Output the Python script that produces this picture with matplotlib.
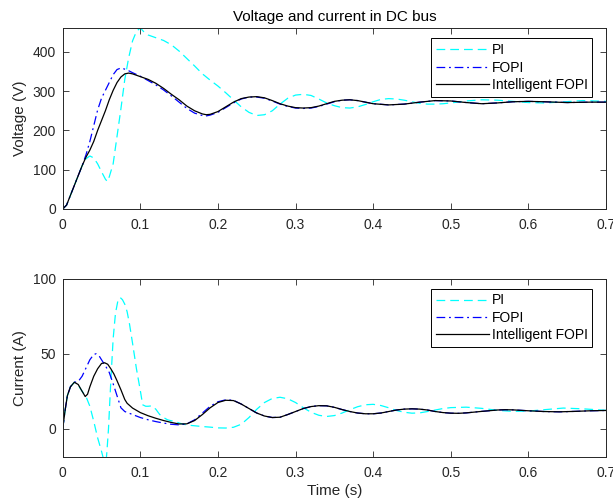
import matplotlib
matplotlib.use("Agg")
import matplotlib.pyplot as plt

plt.rcParams['font.family'] = ['Liberation Sans', 'DejaVu Sans']

# ---------------- Voltage data ----------------
t_v_pi = [0, 0.005, 0.01, 0.015, 0.02, 0.025, 0.03, 0.035, 0.04, 0.045, 0.05, 0.055, 0.0575,
          0.06, 0.065, 0.07, 0.075, 0.08, 0.085, 0.09, 0.095, 0.1, 0.105, 0.11, 0.12, 0.13,
          0.14, 0.15, 0.16, 0.17, 0.18, 0.19, 0.2, 0.21, 0.22, 0.23, 0.24, 0.25, 0.26, 0.27,
          0.28, 0.29, 0.3, 0.31, 0.32, 0.33, 0.34, 0.35, 0.36, 0.37, 0.38, 0.39, 0.4, 0.41,
          0.42, 0.43, 0.44, 0.45, 0.46, 0.47, 0.48, 0.49, 0.5, 0.52, 0.54, 0.56, 0.58, 0.6,
          0.62, 0.64, 0.67, 0.7]
v_pi = [0, 10, 35, 60, 85, 110, 128, 135, 130, 115, 95, 76, 70,
        82, 115, 185, 255, 330, 385, 428, 452, 461, 450, 443, 436, 429,
        418, 402, 383, 364, 344, 328, 313, 296, 278, 260, 246, 238, 240, 250,
        267, 282, 290, 292, 289, 280, 270, 263, 258, 257, 260, 266, 273, 279,
        281, 280, 277, 273, 269, 267, 267, 268, 270, 275, 278, 277, 274, 271,
        270, 272, 276, 274]

t_v_fopi = [0, 0.005, 0.01, 0.015, 0.02, 0.025, 0.03, 0.035, 0.04, 0.045, 0.05, 0.055, 0.06,
            0.065, 0.07, 0.075, 0.08, 0.085, 0.09, 0.1, 0.11, 0.12, 0.13, 0.14, 0.15, 0.16,
            0.17, 0.18, 0.185, 0.19, 0.2, 0.21, 0.22, 0.23, 0.24, 0.25, 0.26, 0.27, 0.28,
            0.29, 0.3, 0.31, 0.32, 0.33, 0.34, 0.35, 0.36, 0.37, 0.38, 0.39, 0.4, 0.42,
            0.44, 0.46, 0.48, 0.5, 0.52, 0.54, 0.56, 0.58, 0.6, 0.62, 0.65, 0.68, 0.7]
v_fopi = [0, 10, 35, 60, 85, 110, 138, 172, 212, 252, 282, 302, 322,
          342, 355, 359, 356, 352, 347, 338, 327, 316, 303, 288, 272, 256,
          244, 238, 237, 239, 246, 258, 270, 280, 285, 285, 282, 275, 267,
          261, 257, 256, 257, 261, 267, 273, 277, 278, 276, 272, 268, 265,
          267, 272, 276, 275, 271, 268, 270, 273, 274, 273, 271, 272, 272]

t_v_ifopi = [0, 0.005, 0.01, 0.015, 0.02, 0.025, 0.03, 0.035, 0.04, 0.045, 0.05, 0.055, 0.06,
             0.065, 0.07, 0.075, 0.08, 0.085, 0.09, 0.1, 0.11, 0.12, 0.13, 0.14, 0.15, 0.16,
             0.17, 0.18, 0.185, 0.19, 0.2, 0.21, 0.22, 0.23, 0.24, 0.25, 0.26, 0.27, 0.28,
             0.29, 0.3, 0.31, 0.32, 0.33, 0.34, 0.35, 0.36, 0.37, 0.38, 0.39, 0.4, 0.42,
             0.44, 0.46, 0.48, 0.5, 0.52, 0.54, 0.56, 0.58, 0.6, 0.62, 0.65, 0.68, 0.7]
v_ifopi = [0, 10, 35, 60, 85, 110, 132, 150, 172, 200, 225, 250, 278,
           302, 322, 336, 344, 346, 344, 337, 330, 320, 307, 292, 278, 262,
           250, 242, 240, 241, 248, 260, 272, 281, 285, 286, 283, 276, 268,
           262, 258, 257, 258, 262, 268, 274, 277, 278, 276, 272, 268, 265,
           267, 272, 276, 275, 271, 268, 270, 273, 274, 273, 271, 272, 272]

# ---------------- Current data ----------------
t_i_pi = [0, 0.003, 0.006, 0.01, 0.015, 0.02, 0.025, 0.03, 0.035, 0.04, 0.045, 0.05, 0.052,
          0.055, 0.057, 0.059, 0.062, 0.065, 0.068, 0.071, 0.074, 0.077, 0.08, 0.083, 0.086,
          0.09, 0.095, 0.1, 0.103, 0.107, 0.11, 0.115, 0.12, 0.125, 0.13, 0.135, 0.14, 0.145,
          0.15, 0.16, 0.17, 0.18, 0.19, 0.2, 0.21, 0.22, 0.23, 0.24, 0.25, 0.26, 0.27, 0.28,
          0.29, 0.3, 0.31, 0.32, 0.33, 0.34, 0.35, 0.36, 0.37, 0.38, 0.39, 0.4, 0.41, 0.42,
          0.43, 0.44, 0.45, 0.46, 0.47, 0.48, 0.49, 0.5, 0.52, 0.54, 0.56, 0.58, 0.6, 0.62,
          0.645, 0.67, 0.7]
i_pi = [0, 12, 22, 28, 31, 29, 25, 21.5, 15, 5, -6, -15, -19,
        -27, -15, 0, 32, 60, 77, 85, 87.5, 86, 83, 78, 70,
        57, 40, 25.5, 16, 15, 15, 15.3, 13, 9.5, 7.5, 6, 5.3, 5,
        3.8, 2.5, 2, 1.5, 1.1, 0.6, 0.5, 1, 3, 7.5, 13, 17.5, 20.2, 21,
        20, 17.5, 14, 11, 9, 8.2, 8.8, 10.5, 12.7, 14.7, 16, 16.3, 15.5, 14,
        12.2, 11, 10.4, 10.6, 11.5, 12.5, 13.5, 14.1, 14.4, 13.6, 12.3, 11.6, 11.8, 12.7,
        13.8, 13.3, 12.3]

t_i_fopi = [0, 0.003, 0.006, 0.01, 0.015, 0.02, 0.025, 0.03, 0.035, 0.04, 0.043, 0.047, 0.05,
            0.055, 0.06, 0.065, 0.07, 0.075, 0.08, 0.09, 0.1, 0.11, 0.12, 0.13, 0.14, 0.15,
            0.16, 0.17, 0.18, 0.19, 0.2, 0.21, 0.22, 0.23, 0.24, 0.25, 0.26, 0.27, 0.28,
            0.29, 0.3, 0.31, 0.32, 0.33, 0.34, 0.35, 0.36, 0.37, 0.38, 0.39, 0.4, 0.41,
            0.42, 0.43, 0.44, 0.45, 0.46, 0.47, 0.48, 0.49, 0.5, 0.51, 0.52, 0.54, 0.56,
            0.57, 0.58, 0.6, 0.62, 0.64, 0.66, 0.68, 0.7]
i_fopi = [0, 12, 22, 28, 31, 31.5, 35, 40.5, 46, 49.5, 50, 48.5, 46,
          42, 37.5, 30, 22, 14, 11.5, 9.5, 7.5, 6, 4.8, 3.8, 3, 2.6,
          3.3, 6, 10.5, 15, 18, 19.3, 19, 16.5, 13.5, 10.5, 8.5, 7.5, 7.7,
          9.5, 11.5, 13.5, 14.8, 15.4, 15.3, 14.3, 12.8, 11.5, 10.5, 10, 10, 10.5,
          11.5, 12.5, 13.1, 13.3, 13.1, 12.5, 11.5, 10.8, 10.4, 10.3, 10.6, 11.6, 12.5,
          12.7, 12.6, 12, 11.5, 11.3, 11.6, 12, 12.2]

t_i_ifopi = [0, 0.003, 0.006, 0.01, 0.015, 0.02, 0.025, 0.029, 0.032, 0.035, 0.04, 0.045,
             0.05, 0.054, 0.058, 0.062, 0.066, 0.07, 0.075, 0.08, 0.083, 0.09, 0.1, 0.11,
             0.12, 0.13, 0.14, 0.15, 0.16, 0.17, 0.18, 0.19, 0.2, 0.21, 0.22, 0.23, 0.24,
             0.25, 0.26, 0.27, 0.28, 0.29, 0.3, 0.31, 0.32, 0.33, 0.34, 0.35, 0.36, 0.37,
             0.38, 0.39, 0.4, 0.41, 0.42, 0.43, 0.44, 0.45, 0.46, 0.47, 0.48, 0.49, 0.5,
             0.51, 0.52, 0.54, 0.56, 0.57, 0.58, 0.6, 0.62, 0.64, 0.66, 0.68, 0.7]
i_ifopi = [0, 12, 22, 28, 31, 29.5, 25, 21.5, 23, 28, 35, 40,
           43.5, 44, 43, 40, 36.5, 32, 26, 19.5, 17, 13.8, 10.8, 8.7,
           7, 5.5, 4.2, 3.2, 3.3, 5.5, 9.5, 14, 17.5, 19, 18.8, 16.5, 13.5,
           10.5, 8.5, 7.5, 7.7, 9.5, 11.5, 13.5, 14.8, 15.4, 15.3, 14.3, 12.8, 11.5,
           10.5, 10, 10, 10.5, 11.5, 12.5, 13.1, 13.3, 13.1, 12.5, 11.5, 10.8, 10.4,
           10.3, 10.6, 11.6, 12.5, 12.7, 12.6, 12, 11.5, 11.3, 11.6, 12, 12.2]

series_labels = ['PI', 'FOPI', 'Intelligent FOPI']
x_ticks = [0, 0.1, 0.2, 0.3, 0.4, 0.5, 0.6, 0.7]
x_ticklabels = ['0', '0.1', '0.2', '0.3', '0.4', '0.5', '0.6', '0.7']
v_ticks = [0, 100, 200, 300, 400]
i_ticks = [0, 50, 100]

# ---------------- Figure ----------------
W, H = 613, 504
fig = plt.figure(figsize=(W / 100, H / 100), dpi=100)
ax1 = fig.add_axes([62.7 / W, (H - 209) / H, (606 - 62.7) / W, (209 - 28.3) / H])
ax2 = fig.add_axes([62.7 / W, (H - 457.3) / H, (606 - 62.7) / W, (457.3 - 278.7) / H])

axcol = '#262626'
styles = [dict(color='#00FFFF', linestyle=(0, (7, 4)), lw=0.9),
          dict(color='#0000FF', linestyle=(0, (7, 3, 1.5, 3)), lw=0.9),
          dict(color='black', linestyle='-', lw=0.9)]

for ax, data in [(ax1, [(t_v_pi, v_pi), (t_v_fopi, v_fopi), (t_v_ifopi, v_ifopi)]),
                 (ax2, [(t_i_pi, i_pi), (t_i_fopi, i_fopi), (t_i_ifopi, i_ifopi)])]:
    for (t, y), st, lab in zip(data, styles, series_labels):
        ax.plot(t, y, label=lab, **st)
    ax.set_xlim(0, 0.7)
    ax.set_xticks(x_ticks)
    ax.set_xticklabels(x_ticklabels)
    ax.tick_params(direction='in', top=True, right=True, length=4.5, width=0.6,
                   colors=axcol, labelsize=10)
    ax.tick_params(axis='x', pad=6.5)
    ax.tick_params(axis='y', pad=5)
    for s in ax.spines.values():
        s.set_linewidth(0.7)
        s.set_color(axcol)
    leg = ax.legend(loc='upper right', fancybox=False, framealpha=1, edgecolor='black',
                    fontsize=10, handlelength=3.8, borderpad=0.35, labelspacing=0.25,
                    handletextpad=0.2, borderaxespad=0.0, bbox_to_anchor=(0.975, 0.945))
    leg.get_frame().set_linewidth(0.7)

ax1.set_ylim(0, 460)
ax1.set_yticks(v_ticks)
ax1.set_ylabel('Voltage (V)', fontsize=11, color=axcol, labelpad=4)
ax1.set_title('Voltage and current in DC bus', fontsize=11, color='black', pad=5)

ax2.set_ylim(-19, 100)
ax2.set_yticks(i_ticks)
ax2.set_ylabel('Current (A)', fontsize=11, color=axcol, labelpad=4)
ax2.set_xlabel('Time (s)', fontsize=11, color=axcol, labelpad=3)

fig.savefig('out.png', dpi=100)
